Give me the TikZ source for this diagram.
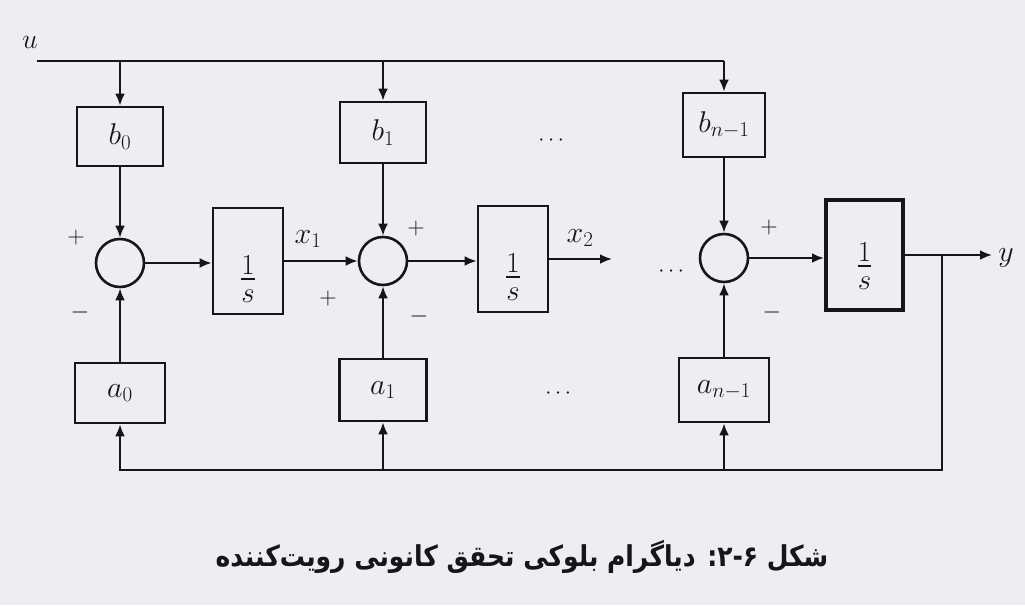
\RequirePackage{fix-cm}
\documentclass[tikz,border=0pt]{standalone}
\usepackage{amsmath}
\usepackage{graphicx}
\usepackage{fontspec}
\usetikzlibrary{arrows.meta,calc}
\TeXXeTstate=1
\newfontfamily\arabicfont[Script=Arabic]{DejaVu Sans}
\definecolor{bgc}{RGB}{236,238,241}
\definecolor{ink}{RGB}{22,22,24}
\newcommand{\invs}{\genfrac{}{}{1.5pt}{1}{\textstyle 1}{\lower6pt\hbox{$s$}}}
\begin{document}
\begin{tikzpicture}[x=1pt,y=-1pt,
  line/.style={draw=ink,line width=2.6pt},
  arr/.style={line,-{Latex[length=12pt,width=10pt]}},
  blk/.style={draw=ink,line width=2.6pt,minimum width=86pt,minimum height=60pt,inner sep=0pt,text=ink,font=\fontsize{30}{34}\selectfont},
  intg/.style={draw=ink,line width=2.6pt,minimum width=70pt,minimum height=106pt,inner sep=0pt},
  frc/.style={text=ink,inner sep=0pt,font=\fontsize{29}{32}\selectfont},
  sumc/.style={draw=ink,line width=2.6pt,circle,minimum size=48pt,inner sep=0pt},
  sgn/.style={text=ink,font=\fontsize{24}{26}\selectfont,inner sep=0pt},
  dts/.style={text=ink,font=\fontsize{22}{24}\selectfont,inner sep=0pt},
  lbl/.style={text=ink,font=\fontsize{30}{34}\selectfont,inner sep=0pt}]
\fill[bgc] (0,0) rectangle (1025,605);
\useasboundingbox (0,0) rectangle (1025,605);

% gain blocks
\node[blk,minimum height=59pt] (b0) at (120,136.5) {$b_0$};
\node[blk,minimum height=61pt] (b1) at (383,132.5) {$b_1$};
\node[blk,minimum width=82pt,minimum height=64pt] (bn) at (724,125) {$b_{n-1}$};
\node[blk,minimum width=90pt] (a0) at (120,393) {$a_0$};
\node[blk,minimum width=87pt,minimum height=62pt] (a1) at (383,390) {$a_1$};
\node[blk,minimum width=90pt,minimum height=64pt] (an) at (724,390) {$a_{n-1}$};

% summing junctions
\node[sumc] (s1) at (120,263) {};
\node[sumc] (s2) at (383,261) {};
\node[sumc] (s3) at (724,258) {};

% integrators
\node[intg] (i1) at (248,261) {};
\node[intg] (i2) at (513,259) {};
\node[intg,line width=4pt,minimum width=77pt,minimum height=110pt] (i3) at (864.5,255) {};
\node[frc] (f1) at (248,279) {$\invs$};
\node[frc] (f2) at (513,277) {$\invs$};
\node[frc] (f3) at (864.5,266) {$\invs$};

% dots
\node[dts] (d1) at (553,141) {$\cdots$};
\node[dts] (d2) at (673,272) {$\cdots$};
\node[dts] (d3) at (560,394) {$\cdots$};

% input line
\coordinate (u) at (37,61);
\node[lbl,font=\fontsize{28}{30}\selectfont] (ul) at (30,42) {$u$};
\coordinate (ut) at (724,61);
\draw[line] (u) -- (ut);
\draw[arr] (ut) -- (bn.north);
\draw[arr] (b0.north |- u) -- (b0.north);
\draw[arr] (b1.north |- u) -- (b1.north);

% b -> sums
\draw[arr] (b0.south) -- (s1.north);
\draw[arr] (b1.south) -- (s2.north);
\draw[arr] (bn.south) -- (s3.north);

% forward path
\draw[arr] (s1.east) -- (i1.west |- s1.east);
\draw[arr] (i1.east |- s2.west) -- (s2.west);
\draw[arr] (s2.east) -- (i2.west |- s2.east);
\coordinate (x2e) at (612,259);
\draw[arr] (i2.east |- x2e) -- (x2e);
\draw[arr] (s3.east) -- (i3.west |- s3.east);
\coordinate (yb) at (942,255);
\coordinate (yo) at (992,255);
\draw[arr] (i3.east |- yb) -- (yo);
\node[lbl] (yl) at (1006,258) {$y$};
\node[lbl] (x1l) at (308,239) {$x_1$};
\node[lbl] (x2l) at (580,238) {$x_2$};

% feedback
\coordinate (yc) at (942,470);
\draw[arr] (yb) -- (yc) -- (a0.south |- yc) -- (a0.south);
\draw[arr] (a1.south |- yc) -- (a1.south);
\draw[arr] (an.south |- yc) -- (an.south);
\draw[arr] (a0.north) -- (s1.south);
\draw[arr] (a1.north) -- (s2.south);
\draw[arr] (an.north) -- (s3.south);

% signs
\node[sgn] (p1) at (76,237) {$+$};
\node[sgn] (m1) at (80,312) {$-$};
\node[sgn] (p2) at (416,228) {$+$};
\node[sgn] (p2b) at (328,298) {$+$};
\node[sgn] (m2) at (419,316) {$-$};
\node[sgn] (p3) at (769,227) {$+$};
\node[sgn] (m3) at (772,312) {$-$};

% caption
\node[text=ink,font=\arabicfont\bfseries\fontsize{25}{30}\selectfont] (cap) at (522,557)
  {\scalebox{1}[1.15]{\beginR شکل ۲-۶: دیاگرام بلوکی تحقق کانونی رویت‌کننده\endR}};
\end{tikzpicture}
\end{document}
